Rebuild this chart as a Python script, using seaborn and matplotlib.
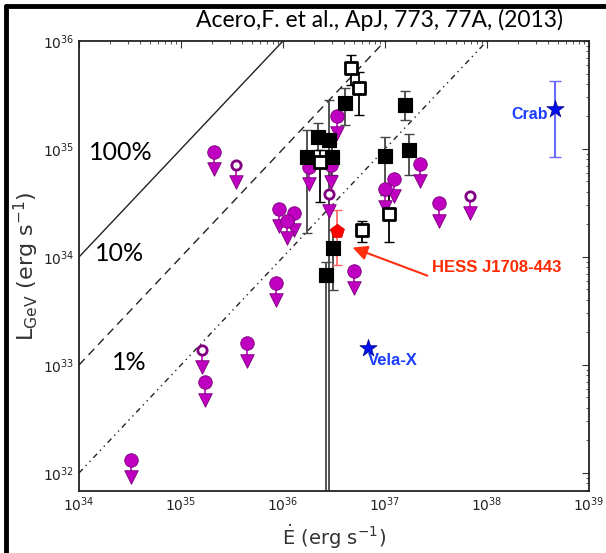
import numpy as np
import pandas as pd
import matplotlib
matplotlib.use("Agg")
import matplotlib.pyplot as plt
import seaborn as sns
from matplotlib.lines import Line2D

# ---- data (log10 of erg/s) ----
# magenta filled circles: upper limits
ul_edot = [35.324, 35.964, 36.108, 36.039, 35.928, 36.532, 36.258, 36.471,
           37.343, 37.088, 37.000, 37.532, 36.696, 35.650, 35.235, 34.507]
ul_lgev = [34.972, 34.444, 34.410, 34.333, 33.762, 35.306, 34.836, 34.852,
           34.861, 34.722, 34.627, 34.497, 33.873, 33.201, 32.840, 32.120]
# magenta open circles: upper limits
ulo_edot = [35.536, 36.454, 37.833, 35.203]
ulo_lgev = [34.852, 34.583, 34.569, 33.139]
# black filled squares: detections
det_edot = [36.608, 37.196, 36.343, 36.451, 36.235, 36.477, 37.000, 37.235, 36.490, 36.417]
det_lgev = [35.426, 35.407, 35.111, 35.083, 34.926, 34.926, 34.935, 34.991, 34.083, 33.833]
det_hi = [35.565, 35.537, 35.241, 35.454, 35.176, 35.083, 35.111, 35.139, 34.250, 33.954]
det_lo = [35.222, 35.269, 34.991, 30.000, 34.222, 34.759, 34.574, 34.759, 33.694, 30.000]
# open squares: detections
ops_edot = [36.664, 36.745, 36.363, 37.039, 36.775]
ops_lgev = [35.750, 35.565, 34.880, 34.398, 34.250]
ops_hi = [35.870, 35.713, 34.991, 34.602, 34.333]
ops_lo = [35.593, 35.315, 34.509, 34.139, 34.139]
# HESS J1708-443
hess_edot, hess_lgev, hess_hi, hess_lo = 36.534, 34.245, 34.431, 33.926
# Crab and Vela-X
crab_edot, crab_lgev, crab_hi, crab_lo = 38.667, 35.370, 35.630, 34.926
vela_edot, vela_lgev = 36.836, 33.155
# efficiency lines
eff_vals = [1.0, 0.1, 0.01]
eff_labels = ["100%", "10%", "1%"]
eff_styles = ["-", (0, (6, 4)), (0, (4, 3, 1, 3, 1, 3))]

p = lambda a: 10 ** np.asarray(a, dtype=float)

sns.set_style("white")
plt.rcParams["font.family"] = ["DejaVu Sans"]
plt.rcParams["mathtext.fontset"] = "dejavusans"

fig = plt.figure(figsize=(6.06, 5.53), dpi=100)
ax = fig.add_axes([79/606, 1-491/553, 510/606, 450/553])
ax.set_xscale("log")
ax.set_yscale("log")
ax.set_xlim(1e34, 1e39)
ax.set_ylim(10**31.833, 1e36)

# efficiency lines
ex = np.array([1e34, 1e39])
for e, ls in zip(eff_vals, eff_styles):
    ax.plot(ex, e * ex, color="#222222", lw=1.0, ls=ls, zorder=1)

MAG = "#c000c0"
drop = 10 ** (-0.16)

# upper limits: stem + triangle + circle
ulx, uly = p(ul_edot), p(ul_lgev)
ox, oy = p(ulo_edot), p(ulo_lgev)
ax.vlines(np.r_[ulx, ox], np.r_[uly, oy] * drop, np.r_[uly, oy], color=MAG, lw=1.2, zorder=2)
tri = pd.DataFrame({"x": np.r_[ulx, ox], "y": np.r_[uly, oy] * drop})
sns.scatterplot(data=tri, x="x", y="y", marker="v", s=95, color=MAG,
                edgecolor="#7a007a", linewidth=0.6, ax=ax, zorder=3)
sns.scatterplot(data=pd.DataFrame({"x": ulx, "y": uly}), x="x", y="y", marker="o", s=95,
                color=MAG, edgecolor="#7a007a", linewidth=0.6, ax=ax, zorder=4)
sns.scatterplot(data=pd.DataFrame({"x": ox, "y": oy}), x="x", y="y", marker="o", s=45,
                color="white", edgecolor="#800080", linewidth=2.0, ax=ax, zorder=4)

# detections
dx, dy = p(det_edot), p(det_lgev)
ax.errorbar(dx, dy, yerr=[dy - p(det_lo), p(det_hi) - dy], fmt="none",
            ecolor="#444444", elinewidth=1.3, capsize=3.5, zorder=2)
sns.scatterplot(data=pd.DataFrame({"x": dx, "y": dy}), x="x", y="y", marker="s", s=105,
                color="black", edgecolor="black", ax=ax, zorder=5)
qx, qy = p(ops_edot), p(ops_lgev)
ax.errorbar(qx, qy, yerr=[qy - p(ops_lo), p(ops_hi) - qy], fmt="none",
            ecolor="black", elinewidth=1.3, capsize=3.5, zorder=2)
sns.scatterplot(data=pd.DataFrame({"x": qx, "y": qy}), x="x", y="y", marker="s", s=70,
                color="white", edgecolor="black", linewidth=2.0, ax=ax, zorder=5)

# HESS J1708-443
hx, hy = p(hess_edot), p(hess_lgev)
ax.errorbar([hx], [hy], yerr=[[hy - p(hess_lo)], [p(hess_hi) - hy]], fmt="none",
            ecolor="#ff6060", elinewidth=1.2, capsize=3.5, zorder=2)
sns.scatterplot(x=[hx], y=[hy], marker="p", s=110, color="#ff0000",
                edgecolor="#cc0000", linewidth=0.5, ax=ax, zorder=6)
ax.annotate("", xy=(p(36.657), p(34.096)), xytext=(p(37.441), p(33.818)),
            arrowprops=dict(arrowstyle="-|>", color="#ff3010", lw=1.5, mutation_scale=22),
            zorder=6)
ax.text(p(37.461), p(33.898), "HESS J1708-443", color="#ff2a00", fontsize=12,
        fontweight="bold", family="Liberation Sans", ha="left", va="center")

# Crab and Vela-X
cx, cy = p(crab_edot), p(crab_lgev)
ax.errorbar([cx], [cy], yerr=[[cy - p(crab_lo)], [p(crab_hi) - cy]], fmt="none",
            ecolor="#6a6aff", elinewidth=1.5, capsize=4, zorder=2)
sns.scatterplot(x=[cx, p(vela_edot)], y=[cy, p(vela_lgev)], marker="*", s=170,
                color="#0010ee", edgecolor="#000080", linewidth=0.5, ax=ax, zorder=6)
ax.text(p(38.598), p(35.324), "Crab", color="#1a3cff", fontsize=11.5,
        fontweight="bold", family="Liberation Sans", ha="right", va="center")
ax.text(p(36.833), p(33.046), "Vela-X", color="#1a3cff", fontsize=12,
        fontweight="bold", family="Liberation Sans", ha="left", va="center")

# efficiency labels
for (lx, ly), t in zip([(34.100, 34.972), (34.16, 34.03), (34.32, 33.02)], eff_labels):
    ax.text(p(lx), p(ly), t, fontsize=18, family="Lato", color="black", ha="left", va="center")

ax.set_xlabel(r"$\dot{\mathrm{E}}\ \mathrm{(erg\ s^{-1})}$", fontsize=14, color="#333333", labelpad=6)
ax.set_ylabel(r"$\mathrm{L_{GeV}\ (erg\ s^{-1})}$", fontsize=16, color="#333333", labelpad=1)
ax.tick_params(which="both", direction="in", top=True, right=True, colors="#333333",
               labelcolor="#222222", labelsize=10)
ax.tick_params(which="major", length=5, width=0.8)
ax.tick_params(which="minor", length=2.5, width=0.6)
ax.xaxis.set_major_locator(matplotlib.ticker.LogLocator(base=10, numticks=10))
ax.yaxis.set_major_locator(matplotlib.ticker.LogLocator(base=10, numticks=10))
ax.xaxis.set_minor_locator(matplotlib.ticker.LogLocator(base=10, subs=np.arange(2, 10), numticks=20))
ax.yaxis.set_minor_locator(matplotlib.ticker.LogLocator(base=10, subs=np.arange(2, 10), numticks=20))
ax.xaxis.set_minor_formatter(matplotlib.ticker.NullFormatter())
ax.yaxis.set_minor_formatter(matplotlib.ticker.NullFormatter())
for s in ax.spines.values():
    s.set_color("#222222")
    s.set_linewidth(1.3)
if ax.get_legend():
    ax.get_legend().remove()

fig.text(380/606, 1 - 20/553, "Acero,F. et al., ApJ, 773, 77A, (2013)", fontsize=16.5,
         family="Lato", ha="center", va="center", color="black")

# screenshot frame (top and left edges)
fig.add_artist(Line2D([6/606, 1], [1 - 6/553, 1 - 6/553], color="black", lw=3.5, transform=fig.transFigure))
fig.add_artist(Line2D([6/606, 6/606], [0, 1 - 6/553], color="black", lw=3.5, transform=fig.transFigure))

fig.savefig("out.png", dpi=100)
